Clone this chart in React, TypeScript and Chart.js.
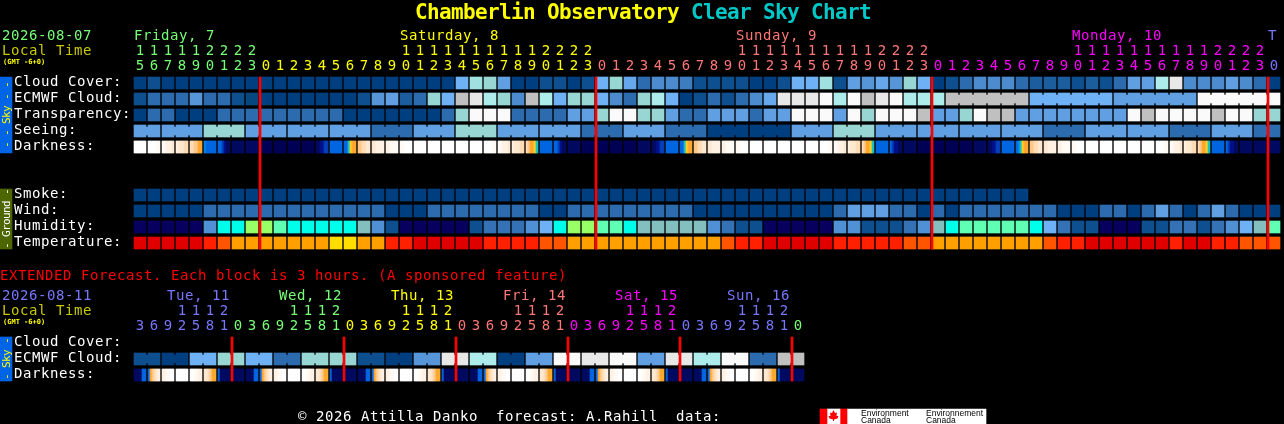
import React, { useEffect, useRef } from "react";
import { Chart, registerables } from "chart.js";

Chart.register(...registerables);

// ---------- data: one level per hourly block ----------
const CLOUD_COVER = [0,1,0,0,0,0,0,0,0,0,0,0,0,0,0,0,0,0,0,0,0,0,0,5,6.5,6,4,0,0,1,1,0,1,5,6,4.5,2,3,3,2.5,1,1,1,1,0,0,1,5,5,6.5,1,4,3.5,4.5,3.5,6,5,0,1,2,3,3,3,2,1.5,1.5,1.5,1,1.5,1,2,4,4,7,9,3,3,3,4,3,2,0];
const ECMWF_CLOUD = [1,2,2,2,3.5,2,2,1,0.5,0,0,0,0,0,0,0,1,3.5,4,1.5,2,6,5,8,9,7,6,3,8,7,5,6,6,5,3,2,6,7,5,0,1,2,1,2,3,4.5,9,9,9,10,7,10,8,9,10,7,7,7,8,8,8,8,8,8,5,5,5,5,5,5,4,4,4,4,4,4,10,10,10,10,10,10];
const TRANSPARENCY = [0,2,2,0,0,0,2,2,2,2,2,2,2,2,2,0,0,0,0,0,0,0,2,6,10,10,10,2,2,2,2,4,4,6,10,10,6,6,4,2,2,4,4,4,2,4,4,10,10,10,4,10,6,10,10,10,8,4,4,6,10,8,8,4,4,4,4,4,4,4,4,10,8,10,10,10,10,8,10,10,6,6];
const SEEING = [4,4,4,4,4,6,6,6,4,4,4,4,4,4,4,4,4,2,2,2,4,4,4,6,6,6,4,4,4,4,4,4,2,2,2,4,4,4,2,2,2,0,0,0,0,0,0,4,4,4,6,6,6,4,4,4,4,4,4,4,4,4,4,4,4,2,2,2,4,4,4,4,4,4,2,2,2,4,4,4,2,2];
const SMOKE = [0,0,0,0,0,0,0,0,0,0,0,0,0,0,0,0,0,0,0,0,0,0,0,0,0,0,0,0,0,0,0,0,0,0,0,0,0,0,0,0,0,0,0,0,0,0,0,0,0,0,0,0,0,0,0,0,0,0,0,0,0,0,0,0];
const WIND = [0,0,0,0,0,2,2,2,2,2,2,2,2,2,2,2,2,2,0,0,0,2,2,2,2,2,2,2,2,0,0,2,2,2,2,2,2,2,2,2,0,0,0,0,0,0,0,0,0,0,2,4,4,4,2,2,0,2,0,2,2,2,2,2,2,2,0,0,0,2,2,0,2,4,2,0,2,4,2,0,0,0];
const HUMIDITY = [0,0,0,0,0,3,8,8,7,7,6,8,8,8,8,8,5,3,1,0,0,0,0,0,1,2,2,2,3,4,8,7,7,6,6,8,5,5,5,5,5,3,2,1,1,0,0,0,0,0,3,3,1,1,1,2,3,5,8,6,6,6,6,6,8,4,2,1,1,0,0,0,1,1,2,2,1,2,3,4,5,6];
const TEMPERATURE = [0,0,0,0,0,1,2,3,3,3,3,3,3,3,4,4,3,3,1,1,0,0,0,0,0,1,1,1,1,2,2,3,3,3,3,3,3,3,3,3,3,3,2,1,1,0,0,0,0,0,1,1,1,1,1,2,2,3,3,3,3,3,3,3,3,2,1,1,0,0,0,0,0,0,1,0,0,1,1,2,2,2];
const DARKNESS = ["000000","000011","112223","233344","445566","9aaaaa","aabcdd","dddddd","dddddd","eeeeee","eeeeee","eeeeee","eeeeee","ddccbb","aaaaaa","aa8766","554433","332222","221111","110000","000000","000000","000000","000000","000000","000011","112223","233344","456678","aaaaaa","aabcdd","dddddd","eeeeee","eeeeee","eeeeee","eeeeee","dddddd","ddccbb","aaaaaa","aa8766","554433","332222","221111","110000","000000","000000","000000","000000","000000","000011","112223","233344","456678","aaaaaa","abccdd","dddddd","eeeeee","eeeeee","eeeeee","eeeeee","dddddd","ddccbb","aaaaaa","a98766","554433","332222","221111","110000","000000","000000","000000","000000","000000","000011","112223","233344","456678","aaaaaa","abccdd","dddddd","dddddd","dddddd"];
const EXT_ECMWF = [1,0,5,6,5,2,6,6,1,0,3.5,9,7,0,4,10,9,10,4,9,7,10,2,8];
const EXT_DARKNESS = ["ddddaa","a65432","221100","000000","001122","334566","addddd","dddddd","ddddaa","a65432","221100","000000","001122","334566","addddd","dddddd","ddddaa","a65432","221100","000000","001122","334566","addddd","dddddd","ddddaa","a65432","221100","000000","001122","334566","addddd","dddddd","ddddaa","a65432","221100","000000","001122","334566","addddd","dddddd","ddddaa","a65432","221100","000000","001122","334566","addddd","dddddd"];

// runs of blocks whose cells are joined to each other
const SEEING_RUNS = [[0,1],[2,4],[5,7],[8,10],[11,13],[14,16],[17,19],[20,22],[23,25],[26,28],[29,31],[32,34],[35,37],[38,40],[41,43],[44,46],[47,49],[50,52],[53,55],[56,58],[59,61],[62,64],[65,67],[68,70],[71,73],[74,76],[77,79],[80,81]];
const ECMWF_RUNS = [[58,63],[64,69],[70,75],[76,81]];

const HOURS = [15,16,17,18,19,20,21,22,23,0,1,2,3,4,5,6,7,8,9,10,11,12,13,14,15,16,17,18,19,20,21,22,23,0,1,2,3,4,5,6,7,8,9,10,11,12,13,14,15,16,17,18,19,20,21,22,23,0,1,2,3,4,5,6,7,8,9,10,11,12,13,14,15,16,17,18,19,20,21,22,23,0];
const EXT_HOURS = [3,6,9,12,15,18,21,0,3,6,9,12,15,18,21,0,3,6,9,12,15,18,21,0,3,6,9,12,15,18,21,0,3,6,9,12,15,18,21,0,3,6,9,12,15,18,21,0];
const DAY_COLOURS = ["#77ff77","#ffff00","#ff7777","#ff00ff","#7777ff"];
const EXT_DAY_COLOURS = ["#7777ff","#77ff77","#ffff00","#ff7777","#ff00ff","#7777ff","#77ff77"];
const DAY_LABELS = [["Friday, 7",0,0],["Saturday, 8",19,1],["Sunday, 9",43,2],["Monday, 10",67,3],["T",81,4]];
const EXT_DAY_LABELS = [["Tue, 11",167,0],["Wed, 12",279,1],["Thu, 13",391,2],["Fri, 14",503,3],["Sat, 15",615,4],["Sun, 16",727,5]];
const SKY_ROWS = ["Cloud Cover:","ECMWF Cloud:","Transparency:","Seeing:","Darkness:"];
const GROUND_ROWS = ["Smoke:","Wind:","Humidity:","Temperature:"];
const EXT_ROWS = ["Cloud Cover:","ECMWF Cloud:","Darkness:"];
const MIDNIGHTS = [259,595,931,1267];
const EXT_MIDNIGHTS = [231,343,455,567,679,791];

// ---------- colour scales ----------
const SKY: Record<number,string> = {0:"#003f7f",0.5:"#07477f",1:"#0e4f8f",1.5:"#1c5d9e",2:"#2c6bae",2.5:"#3c7cbf",3:"#4c8cce",3.5:"#5595d8",4:"#5f9fe2",4.5:"#67a8ec",5:"#6fb1f5",6:"#98d6d4",6.5:"#a0e0e0",7:"#aeecec",8:"#c0c0c0",9:"#e8e8e8",10:"#fafafa"};
const HUM: Record<number,string> = {0:"#08005f",1:"#0e4f8f",2:"#3471b5",3:"#5090d4",4:"#6fb1f5",5:"#84bfbf",6:"#5fffb4",7:"#99ff66",8:"#00ffea"};
const TEMP: Record<number,string> = {0:"#e00000",1:"#ff2000",2:"#ff5500",3:"#ffa000",4:"#ffdd00"};
const DARK: Record<string,string> = {"0":"#ffffff","1":"#fffaf4","2":"#fff2e4","3":"#ffe8d0","4":"#ffdcb4","5":"#ffc888","6":"#ffa830","7":"#ffd020","8":"#20c0c0","9":"#0088e8",a:"#0066e0",b:"#0040b8",c:"#001088",d:"#000a60",e:"#000055"};

// ---------- layout of the page in pixels ----------
const W = 1284, H = 424, LEFT = 134, PITCH = 14, CELL = 12 / 14, GAP_ROW = 16, TOP_ROW = 83;
const colX = (px: number) => (px - LEFT) / PITCH;
const rowY = (px: number) => (px - TOP_ROW) / GAP_ROW;

const bars = (points: any[], colours: any, thickness: number, order = 2) => ({
  type: "bar", data: points, backgroundColor: colours, barThickness: thickness,
  grouped: false, borderWidth: 0, order,
});
const cells = (vals: number[], row: number, pal: Record<number,string>) =>
  bars(vals.map((_, i) => ({ x: [i, i + CELL], y: row })), vals.map((v) => pal[v]), 12);
const joins = (vals: number[], runs: number[][], row: number, pal: Record<number,string>) => {
  const pts: any[] = [], cols: string[] = [];
  runs.forEach(([a, b]) => { for (let i = a; i < b; i++) { pts.push({ x: [i + CELL, i + 1], y: row }); cols.push(pal[vals[i]]); } });
  return bars(pts, cols, 8);
};
const shades = (cellsIn: string[], row: number) => {
  const pts: any[] = [], cols: string[] = [];
  cellsIn.forEach((s, i) => s.split("").forEach((c, k) => {
    pts.push({ x: [i + (k * CELL) / 6, i + ((k + 1) * CELL) / 6], y: row });
    cols.push(DARK[c]);
  }));
  return bars(pts, cols, 12);
};
const rect = (x0: number, x1: number, y0: number, y1: number, colour: string, order = 2) =>
  bars([{ x: [colX(x0), colX(x1)], y: rowY((y0 + y1) / 2) }], colour, y1 - y0, order);

const EXT_CELLS = EXT_ECMWF.flatMap((v) => [v, v]);
const EXT_RUNS = EXT_ECMWF.map((_, i) => [2 * i, 2 * i + 1]);
const EXT_ROW = 16.25;

const MONO = "'DejaVu Sans Mono', 'Liberation Mono', monospace";
const BODY = `14px ${MONO}`;
const TITLE = `bold 21px ${MONO}`;
const TINY = `bold 7px ${MONO}`;
const TAB = `11px ${MONO}`;

const textPlugin = {
  id: "pageText",
  afterDraw(chart: any) {
    const ctx = chart.ctx;
    const t = (s: string, x: number, y: number, colour: string, font = BODY, align = "left", spacing = "0.57px") => {
      ctx.font = font; ctx.fillStyle = colour; ctx.textAlign = align; ctx.textBaseline = "alphabetic";
      ctx.letterSpacing = spacing;
      ctx.fillText(s, x, y);
    };
    const v = (s: string, x: number, y: number, colour: string) => {
      ctx.save(); ctx.translate(x, y); ctx.rotate(-Math.PI / 2);
      t(s, 0, 0, colour, TAB, "center", "-0.62px"); ctx.restore();
    };
    const sx = chart.scales.x;
    const cx = (i: number) => sx.getPixelForValue(i + CELL / 2);

    // title
    t("Chamberlin Observatory", 415, 19, "#ffff00", TITLE, "left", "-0.64px");
    t("Clear Sky Chart", 691, 19, "#00c8c8", TITLE, "left", "-0.64px");

    // left column, first block
    t("2026-08-07", 2, 40, "#77ff77");
    t("Local Time", 2, 55, "#c8c800");
    t("(GMT -6+0)", 3, 64, "#ffff00", TINY, "left", "0px");
    SKY_ROWS.forEach((s, i) => t(s, 14, 86 + 16 * i, "#ffffff"));
    GROUND_ROWS.forEach((s, i) => t(s, 14, 198 + 16 * i, "#ffffff"));

    // day names and hours, first block
    DAY_LABELS.forEach(([s, col, d]: any) => t(s, LEFT + PITCH * col, 40, DAY_COLOURS[d]));
    let day = 0;
    HOURS.forEach((h, i) => {
      if (h === 0 && i > 0) day++;
      const colour = DAY_COLOURS[day];
      if (h >= 10) t(String(Math.floor(h / 10)), cx(i), 55, colour, BODY, "center", "0px");
      t(String(h % 10), cx(i), 70, colour, BODY, "center", "0px");
    });

    // extended block
    t("EXTENDED Forecast. Each block is 3 hours. (A sponsored feature)", 0, 280, "#ff0000");
    t("2026-08-11", 2, 300, "#7777ff");
    t("Local Time", 2, 315, "#c8c800");
    t("(GMT -6+0)", 3, 324, "#ffff00", TINY, "left", "0px");
    EXT_ROWS.forEach((s, i) => t(s, 14, 346 + 16 * i, "#ffffff"));
    EXT_DAY_LABELS.forEach(([s, x, d]: any) => t(s, x, 300, EXT_DAY_COLOURS[d]));
    let extDay = 0;
    EXT_HOURS.forEach((h, i) => {
      if (h === 0) extDay++;
      const colour = EXT_DAY_COLOURS[extDay];
      if (h >= 10) t(String(Math.floor(h / 10)), cx(i), 315, colour, BODY, "center", "0px");
      t(String(h % 10), cx(i), 330, colour, BODY, "center", "0px");
    });

    // side tabs
    v("- - Sky - -", 10, 115, "#ffff00");
    v("- Ground -", 10, 219, "#ffffff");
    v("- Sky -", 10, 359, "#ffff00");

    // footer
    t("© 2026 Attilla Danko  forecast: A.Rahill  data:", 298, 421, "#ffffff");
    const sm = "8.5px 'Liberation Sans', sans-serif";
    t("Environment", 861, 416, "#000000", sm, "left", "0px");
    t("Canada", 861, 423, "#000000", sm, "left", "0px");
    t("Environnement", 926, 416, "#000000", sm, "left", "0px");
    t("Canada", 926, 423, "#000000", sm, "left", "0px");
    ctx.fillStyle = "#ff0000";
    ctx.beginPath();
    [[833.5,410],[835,413],[837,412.5],[836.5,416],[838.5,416],[837.5,418.5],[834,419.5],[834,421],[833,421],[833,419.5],[829.5,418.5],[828.5,416],[830.5,416],[830,412.5],[832,413]].forEach(([a,b],i)=> i? ctx.lineTo(a,b):ctx.moveTo(a,b));
    ctx.closePath(); ctx.fill();
  },
};

export default function App() {
  const ref = useRef<HTMLCanvasElement>(null);
  useEffect(() => {
    const chart = new Chart(ref.current as any, {
      type: "bar",
      data: {
        datasets: [
          bars(MIDNIGHTS.map((p) => ({ x: [colX(p), colX(p + 2)], y: rowY(163) })), "#ff0000", 172, 0),
          bars(EXT_MIDNIGHTS.map((p) => ({ x: [colX(p), colX(p + 2)], y: rowY(359) })), "#ff0000", 44, 0),
          rect(0, 12, 77, 153, "#0064e6"),
          rect(0, 12, 189, 249, "#4d6600"),
          rect(0, 12, 337, 381, "#0064e6"),
          rect(820, 827, 409, 424, "#ff0000"),
          rect(827, 840, 409, 424, "#ffffff"),
          rect(840, 847, 409, 424, "#ff0000"),
          rect(847, 986, 409, 424, "#ffffff"),
          cells(CLOUD_COVER, 0, SKY),
          cells(ECMWF_CLOUD, 1, SKY),
          joins(ECMWF_CLOUD, ECMWF_RUNS, 1, SKY),
          cells(TRANSPARENCY, 2, SKY),
          cells(SEEING, 3, SKY),
          joins(SEEING, SEEING_RUNS, 3, SKY),
          shades(DARKNESS, 4),
          cells(SMOKE, 7, SKY),
          cells(WIND, 8, SKY),
          cells(HUMIDITY, 9, HUM),
          cells(TEMPERATURE, 10, TEMP),
          cells(EXT_CELLS, EXT_ROW + 1, SKY),
          joins(EXT_CELLS, EXT_RUNS, EXT_ROW + 1, SKY),
          shades(EXT_DARKNESS, EXT_ROW + 2),
        ] as any,
      },
      options: {
        indexAxis: "y",
        animation: false,
        responsive: false,
        devicePixelRatio: 1,
        events: [],
        layout: { padding: 0 },
        plugins: { legend: { display: false }, tooltip: { enabled: false }, title: { display: false } },
        scales: {
          x: { type: "linear", display: false, min: colX(0), max: colX(W), offset: false, grid: { display: false } },
          y: { type: "linear", display: false, reverse: true, min: rowY(0), max: rowY(H), offset: false, grid: { display: false } },
        },
      } as any,
      plugins: [textPlugin],
    } as any);
    return () => chart.destroy();
  }, []);
  return (
    <div style={{ position: "fixed", inset: 0, background: "#000" }}>
      <canvas ref={ref} width={W} height={H} style={{ display: "block", width: W, height: H }} />
    </div>
  );
}
